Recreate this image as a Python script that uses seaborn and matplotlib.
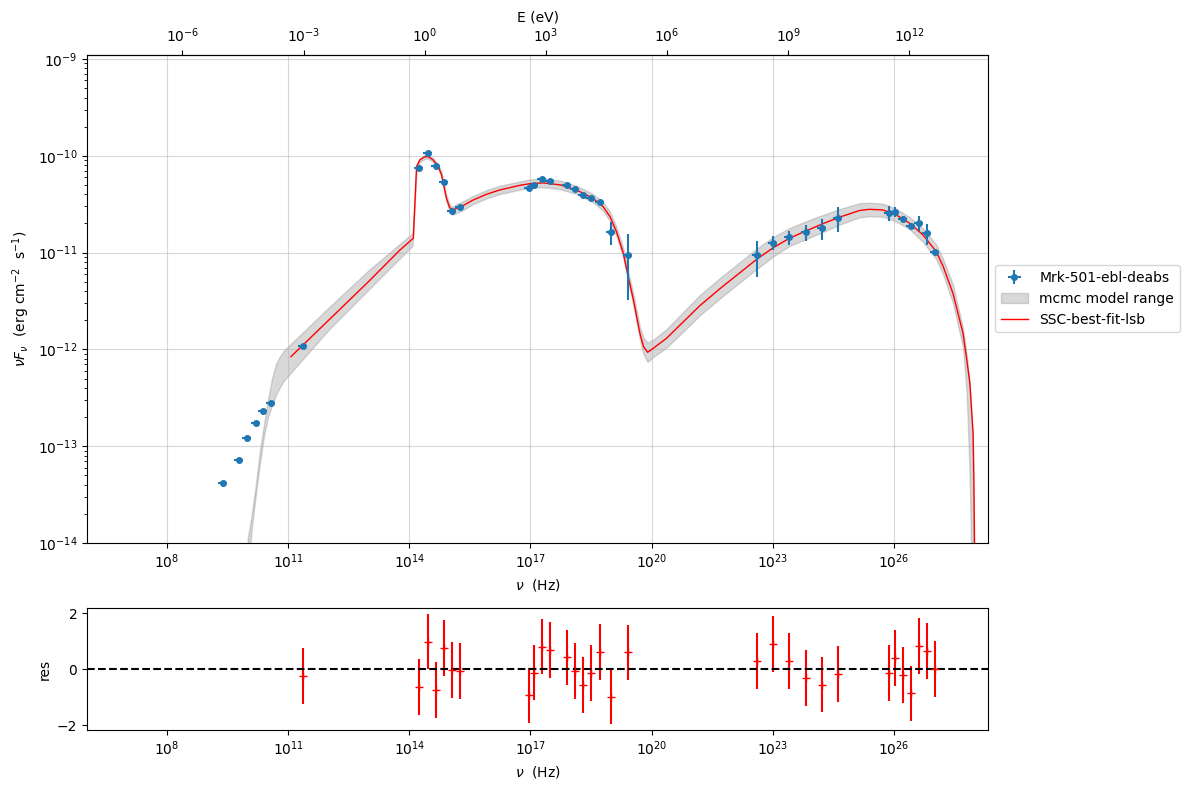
import numpy as np
import matplotlib
matplotlib.use("Agg")
import matplotlib.pyplot as plt
from matplotlib.ticker import NullLocator
import seaborn as sns

# observed SED points (log10 nu [Hz], nuFnu [erg cm-2 s-1], 1-sigma error)
log_nu = [9.38, 9.78, 9.98, 10.20, 10.39, 10.58, 11.37,
          14.24, 14.47, 14.67, 14.85, 15.06, 15.25,
          16.96, 17.09, 17.29, 17.49, 17.91, 18.11, 18.31, 18.50, 18.72, 18.99, 19.41,
          22.60, 23.00, 23.40, 23.82, 24.21, 24.61,
          25.87, 26.02, 26.22, 26.42, 26.62, 26.81, 27.01]
flux = [4.17e-14, 7.14e-14, 1.22e-13, 1.74e-13, 2.31e-13, 2.77e-13, 1.076e-12,
        7.43e-11, 1.077e-10, 7.9e-11, 5.32e-11, 2.69e-11, 2.98e-11,
        4.61e-11, 4.99e-11, 5.75e-11, 5.53e-11, 5.03e-11, 4.57e-11, 3.91e-11, 3.64e-11, 3.33e-11, 1.64e-11, 9.44e-12,
        9.4e-12, 1.27e-11, 1.44e-11, 1.63e-11, 1.79e-11, 2.29e-11,
        2.58e-11, 2.65e-11, 2.24e-11, 1.88e-11, 2.04e-11, 1.58e-11, 1.02e-11]
flux_err = [2e-15, 3.5e-15, 6e-15, 8e-15, 1.1e-14, 1.4e-14, 5e-14,
            3.5e-12, 5e-12, 3.8e-12, 2.6e-12, 1.3e-12, 1.5e-12,
            2.3e-12, 2.5e-12, 2.8e-12, 2.7e-12, 2.5e-12, 2.3e-12, 2.0e-12, 1.8e-12, 1.8e-12, 4.4e-12, 6.2e-12,
            3.8e-12, 2.1e-12, 2.3e-12, 3.0e-12, 4.4e-12, 6.5e-12,
            4.5e-12, 3.3e-12, 1.5e-12, 1.2e-12, 3.5e-12, 3.8e-12, 0.8e-12]
nu_err_frac = [0.25, 0.25, 0.25, 0.25, 0.25, 0.25, 0.25,
               0.25, 0.25, 0.25, 0.25, 0.25, 0.25,
               0.25, 0.25, 0.25, 0.25, 0.25, 0.25, 0.25, 0.25, 0.25, 0.25, 0.25,
               0.25, 0.25, 0.25, 0.25, 0.25, 0.25,
               0.25, 0.25, 0.25, 0.25, 0.25, 0.25, 0.25]

# residuals of the fitted points (all but the 6 lowest radio points)
residuals = [-0.23, -0.65, 0.99, -0.75, 0.75, -0.04, -0.07,
             -0.94, -0.12, 0.81, 0.70, 0.42, -0.06, -0.57, -0.14, 0.63, -0.98, 0.60,
             0.29, 0.89, 0.29, -0.30, -0.55, -0.18,
             -0.14, 0.39, -0.21, -0.87, 0.82, 0.64, 0.0]

# best fit SSC model (log10 nu, log10 nuFnu)
model_lognu = [11.07, 12.0, 13.0, 13.77, 14.10, 14.18, 14.26, 14.39, 14.47, 14.59, 14.72, 14.80,
               14.86, 14.92, 14.99, 15.06, 15.17, 15.33, 15.58, 15.91, 16.24, 16.74, 16.99, 17.31,
               17.73, 18.14, 18.55, 18.80, 18.97, 19.13, 19.30, 19.42, 19.55, 19.71, 19.80, 19.90,
               20.04, 20.37, 20.70, 21.19, 21.70, 22.18, 22.60, 23.01, 23.42, 23.83, 24.25, 24.66,
               25.15, 25.40, 25.73, 26.06, 26.39, 26.72, 27.05, 27.22, 27.46, 27.71, 27.80, 27.88,
               27.96, 27.98, 28.00]
model_logf = [-12.075, -11.70, -11.296, -10.973, -10.852, -10.113, -10.043, -10.009, -10.009, -10.043, -10.113, -10.198,
              -10.319, -10.439, -10.526, -10.567, -10.542, -10.515, -10.457, -10.398, -10.353, -10.305, -10.288, -10.280,
              -10.300, -10.353, -10.439, -10.526, -10.629, -10.784, -11.007, -11.249, -11.490, -11.834, -11.972, -12.030,
              -11.989, -11.885, -11.75, -11.55, -11.37, -11.21, -11.07, -10.95, -10.85, -10.775, -10.70, -10.633,
              -10.565, -10.553, -10.560, -10.612, -10.697, -10.818, -10.991, -11.145, -11.420, -11.834, -12.10, -12.350,
              -12.867, -13.383, -14.2]

# mcmc model range envelope (log10 nu, log10 lower, log10 upper)
band_lognu = [9.95, 10.0, 10.1, 10.2, 10.3, 10.4, 10.5, 10.6, 10.7, 10.8,
              10.9, 11.05, 12.0, 13.0, 14.08, 14.18, 14.26, 14.39, 14.47, 14.59,
              14.72, 14.80, 14.86, 14.92, 14.99, 15.06, 15.17, 15.33, 15.58, 15.91,
              16.24, 16.74, 16.99, 17.31, 17.73, 18.14, 18.55, 18.80, 18.97, 19.13,
              19.30, 19.42, 19.55, 19.71, 19.80, 19.90, 20.04, 20.37, 20.70, 21.19,
              21.70, 22.18, 22.60, 23.01, 23.42, 23.83, 24.25, 24.66, 25.15, 25.40,
              25.73, 26.06, 26.39, 26.72, 27.05, 27.22, 27.46, 27.71, 27.80, 27.85,
              27.88, 27.93, 27.955, 27.97, 27.98]
band_hi = [-14.3, -13.95, -13.70, -13.40, -13.05, -12.78, -12.52, -12.30, -12.15, -12.07,
           -12.01, -11.95, -11.57, -11.18, -10.80, -10.09, -10.025, -9.99, -9.99, -10.025,
           -10.09, -10.17, -10.29, -10.41, -10.49, -10.53, -10.50, -10.47, -10.415, -10.355,
           -10.31, -10.265, -10.245, -10.235, -10.255, -10.31, -10.395, -10.48, -10.58, -10.735,
           -10.955, -11.195, -11.43, -11.77, -11.88, -11.93, -11.90, -11.79, -11.65, -11.44,
           -11.26, -11.10, -10.96, -10.84, -10.745, -10.675, -10.61, -10.55, -10.49, -10.485,
           -10.495, -10.55, -10.635, -10.75, -10.92, -11.07, -11.33, -11.78, -12.05, -12.25,
           -12.40, -12.80, -13.05, -14.5, -15.0]
band_lo = [-14.6, -14.3, -13.85, -13.50, -13.18, -12.90, -12.70, -12.58, -12.47, -12.39,
           -12.32, -12.25, -11.80, -11.38, -10.93, -10.14, -10.065, -10.03, -10.03, -10.065,
           -10.135, -10.225, -10.35, -10.47, -10.57, -10.61, -10.59, -10.56, -10.50, -10.44,
           -10.395, -10.35, -10.33, -10.325, -10.345, -10.395, -10.48, -10.57, -10.675, -10.83,
           -11.06, -11.30, -11.55, -11.90, -12.05, -12.13, -12.08, -11.98, -11.85, -11.65,
           -11.47, -11.31, -11.17, -11.04, -10.93, -10.86, -10.785, -10.71, -10.635, -10.625,
           -10.63, -10.68, -10.76, -10.89, -11.07, -11.23, -11.52, -11.98, -12.45, -13.0,
           -13.4, -14.5, -15.0, -15.0, -15.0]

H_EV = 4.135667696e-15  # Planck constant in eV s

nu = 10 ** np.array(log_nu)
f = np.array(flux)
nu_err = nu * np.array(nu_err_frac)

fig = plt.figure(figsize=(11.9, 7.9), dpi=100)
ax = fig.add_axes([0.0731, 0.3127, 0.7572, 0.6177])
axr = fig.add_axes([0.0731, 0.0759, 0.7572, 0.1544])

# main SED panel
ax.errorbar(nu, f, xerr=nu_err, yerr=flux_err, fmt='o', ms=4, color='C0',
            label='Mrk-501-ebl-deabs', zorder=3)
ax.fill_between(10 ** np.array(band_lognu), 10 ** np.array(band_lo), 10 ** np.array(band_hi),
                color='gray', alpha=0.3, label='mcmc model range')
sns.lineplot(x=10 ** np.array(model_lognu), y=10 ** np.array(model_logf), color='red',
             lw=1, sort=False, ax=ax, label='SSC-best-fit-lsb')

ax.set_xscale('log')
ax.set_yscale('log')
ax.set_xlim(10 ** 6.02, 10 ** 28.33)
ax.set_ylim(1e-14, 1.1e-9)
xt = [1e8, 1e11, 1e14, 1e17, 1e20, 1e23, 1e26]
ax.set_xticks(xt)
ax.xaxis.set_minor_locator(NullLocator())
ax.grid(True, which='major', alpha=0.5)
ax.set_xlabel(r'$\nu$  (Hz)')
ax.set_ylabel(r'$\nu F_{\nu}$  (erg cm$^{-2}$  s$^{-1}$)')

secax = ax.secondary_xaxis('top', functions=(lambda x: x * H_EV, lambda e: e / H_EV))
secax.set_xticks([1e-6, 1e-3, 1e0, 1e3, 1e6, 1e9, 1e12])
secax.xaxis.set_minor_locator(NullLocator())
secax.set_xlabel('E (eV)')

handles, labels = ax.get_legend_handles_labels()
order = ['Mrk-501-ebl-deabs', 'mcmc model range', 'SSC-best-fit-lsb']
hmap = dict(zip(labels, handles))
ax.legend([hmap[k] for k in order], order, loc='center left', bbox_to_anchor=(1.0, 0.5))

# residual panel
axr.errorbar(nu[6:], residuals, yerr=1, fmt='+', color='red')
axr.axhline(0, color='k', ls='--')
axr.set_xscale('log')
axr.set_xlim(10 ** 6.02, 10 ** 28.33)
axr.set_xticks(xt)
axr.xaxis.set_minor_locator(NullLocator())
axr.set_xlabel(r'$\nu$  (Hz)')
axr.set_ylabel('res')

fig.savefig('out.png', dpi=100)
